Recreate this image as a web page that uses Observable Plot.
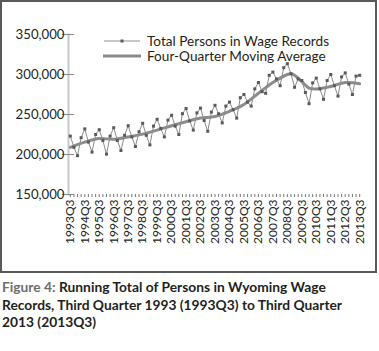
<!DOCTYPE html>
<html><head><meta charset="utf-8">
<script src="https://cdn.jsdelivr.net/npm/d3@7"></script>
<script src="https://cdn.jsdelivr.net/npm/@observablehq/plot@0.6"></script>
<style>
body{margin:0;background:#fff;font-family:Lato,sans-serif;}
#wrap{position:relative;width:379px;height:351px;overflow:hidden;}
#chart{position:absolute;left:0;top:0;}
#frame{position:absolute;left:0;top:0;width:377px;height:273px;box-sizing:border-box;border:2px solid #58595b;}
.leg{position:absolute;left:102px;height:13px;display:flex;align-items:center;font-size:13.6px;line-height:13px;color:#231f20;white-space:nowrap;}
.leg span{line-height:13px;display:inline-block;height:13px;}
.leg svg{margin-right:5px;}
#caption{position:absolute;left:2px;top:278px;font-size:13.8px;line-height:17.6px;font-weight:700;color:#231f20;white-space:nowrap;}
#caption .fig{color:#6d6e71;}
</style></head><body>
<div id="wrap">
<div id="chart"></div>
<div id="frame"></div>
<div class="leg" style="top:34.5px"><svg width="40" height="10"><line x1="2" x2="38" y1="5" y2="5" stroke="#c8c8c8" stroke-width="2"/><rect x="18.5" y="3.5" width="3" height="3" fill="#5a5a5a"/></svg><span id="l1"></span></div>
<div class="leg" style="top:49.5px"><svg width="40" height="10"><line x1="1" x2="39" y1="5" y2="5" stroke="#8c8c8c" stroke-width="3"/></svg><span id="l2"></span></div>
<div id="caption"><span class="fig">Figure 4:</span> Running Total of Persons in Wyoming Wage<br>Records, Third Quarter 1993 (1993Q3) to Third Quarter<br>2013 (2013Q3)</div>
</div>
<script>
const seriesNames = ["Total Persons in Wage Records", "Four-Quarter Moving Average"];
const quarters = [];
for (let y = 1993; y <= 2013; y++) for (let q = 1; q <= 4; q++) {
  if ((y === 1993 && q < 3) || (y === 2013 && q > 3)) continue;
  quarters.push(`${y}Q${q}`);
}
const totals = [
  223000, 209000, 198500, 221000, 232000, 215500, 203000, 225000, 231000, 217500,
  200500, 223000, 233500, 217500, 205000, 224000, 236000, 222000, 210000, 228500,
  239000, 224000, 212000, 235500, 244000, 232500, 222000, 243000, 249000, 235500,
  225000, 251000, 257500, 242000, 230500, 252000, 258000, 242500, 229000, 253000,
  261500, 251000, 239500, 260500, 265500, 256000, 245500, 271000, 275000, 265500,
  260500, 282000, 290000, 278500, 276500, 299000, 303000, 294500, 286000, 308500,
  313500, 301000, 284000, 294500, 292500, 277500, 263500, 289500, 295500, 282000,
  269000, 292500, 300000, 286000, 273000, 297000, 302000, 288000, 275000, 298000,
  299000
];
const maQuarters = ["1993Q3","1994Q3","1995Q3","1996Q3","1997Q3","1998Q3","1999Q3","2000Q3","2001Q3","2002Q3","2003Q3","2004Q3","2005Q3","2006Q3","2007Q3","2008Q3","2008Q4","2009Q1","2009Q3","2010Q1","2010Q3","2011Q3","2012Q3","2013Q3"];
const maValues = [209000,215500,220000,219000,222000,225500,230500,236000,241000,245500,247500,254000,262500,276500,290000,300000,301000,299000,291000,283000,282000,285000,290000,288500];
const yTicks = [150000, 200000, 250000, 300000, 350000];
const xTickLabels = quarters.filter(q => q.endsWith("Q3"));

document.getElementById("l1").textContent = seriesNames[0];
document.getElementById("l2").textContent = seriesNames[1];

const totalRows = quarters.map((q, i) => ({q, v: totals[i]}));
const maRows = maQuarters.map((q, i) => ({q, v: maValues[i]}));
const fmt = d3.format(",");

const chart = Plot.plot({
  width: 379, height: 272,
  marginLeft: 68, marginRight: 18, marginTop: 34, marginBottom: 78,
  style: {fontFamily: "Lato, sans-serif", fontSize: "12px", color: "#231f20", background: "transparent"},
  x: {type: "point", domain: quarters, padding: 0.5},
  y: {domain: [150000, 350000]},
  marks: [
    Plot.frame({anchor: "left", stroke: "#c8c8c8", strokeWidth: 2}),
    Plot.axisY({ticks: yTicks, tickSize: 12, dx: 6, tickFormat: () => "", stroke: "#8a8a8a", label: null}),
    Plot.axisY({ticks: yTicks, tickSize: 0, tickPadding: 4, tickFormat: fmt, fontSize: 13.2, label: null}),
    Plot.axisX({tickSize: 3, tickRotate: -90, tickPadding: 2, stroke: "#777", fontSize: 12, label: null,
      tickFormat: d => xTickLabels.includes(d) ? d : ""}),
    Plot.line(totalRows, {x: "q", y: "v", stroke: "#8a8a8a", strokeWidth: 1}),
    Plot.line(maRows, {x: "q", y: "v", curve: "catmull-rom", stroke: "#8c8c8c", strokeWidth: 3}),
    Plot.dot(totalRows, {x: "q", y: "v", symbol: "square", r: 1.7, fill: "#5a5a5a"})
  ]
});
document.getElementById("chart").appendChild(chart);
</script>
</body></html>
